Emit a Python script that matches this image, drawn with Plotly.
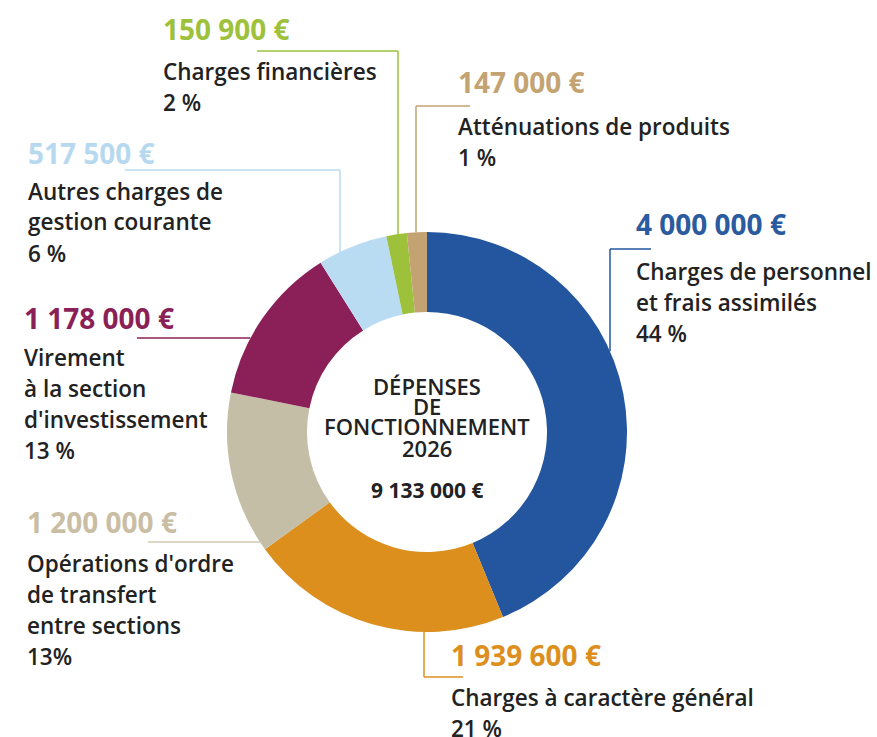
import math
import plotly.graph_objects as go

# ---------------- data ----------------
categories = [
    "Charges de personnel et frais assimilés",
    "Charges à caractère général",
    "Opérations d'ordre de transfert entre sections",
    "Virement à la section d'investissement",
    "Autres charges de gestion courante",
    "Charges financières",
    "Atténuations de produits",
]
label_lines = [
    ["Charges de personnel", "et frais assimilés"],
    ["Charges à caractère général"],
    ["Opérations d'ordre", "de transfert", "entre sections"],
    ["Virement", "à la section", "d'investissement"],
    ["Autres charges de", "gestion courante"],
    ["Charges financières"],
    ["Atténuations de produits"],
]
values = [4000000, 1939600, 1200000, 1178000, 517500, 150900, 147000]
percent_labels = ["44 %", "21 %", "13%", "13 %", "6 %", "2 %", "1 %"]
colors = ["#24569f", "#dc8f1c", "#c5bea6", "#8b1f57", "#b9dcf2", "#9ec13b", "#c4a373"]
text_colors = ["#2a5aa0", "#dc8f1c", "#c9bea4", "#8b1f57", "#b7d9f0", "#9ec13b", "#c4a373"]
title_lines = ["DÉPENSES", "DE", "FONCTIONNEMENT", "2026"]

# ---------------- layout helpers ----------------
W, H = 877, 737
CX, CY, R = 427, 432, 200
HOLE = 0.6
DARK = "#222222"
FONT = "Open Sans"


def px(x):
    return x / W


def py(y):
    return 1 - y / H


def fmt_eur(v):
    return f"{v:,}".replace(",", " ") + " €"


def edge_y(x, top=True):
    d = math.sqrt(R * R - (x - CX) ** 2)
    return CY - d if top else CY + d


def edge_x(y, left=True):
    d = math.sqrt(R * R - (y - CY) ** 2)
    return CX - d if left else CX + d


fig = go.Figure(
    go.Pie(
        labels=categories,
        values=values,
        marker=dict(colors=colors, line=dict(width=0)),
        hole=HOLE,
        sort=False,
        direction="clockwise",
        rotation=0,
        textinfo="none",
        hoverinfo="label+value+percent",
        showlegend=False,
        domain=dict(x=[px(CX - R), px(CX + R)], y=[py(CY + R), py(CY - R)]),
    )
)

# label blocks: (left x, y of value line, y of first text line)
blocks = [
    (634, 224, 271),   # personnel
    (449, 655, 697),   # caractère général
    (25, 522, 563),    # opérations d'ordre
    (22, 318, 357),    # virement
    (26, 153, 191),    # autres charges
    (161, 29, 71),     # financières
    (456, 82, 126),    # atténuations
]
LINE_GAP = 31

annotations = []
for i, (x0, yv, yt) in enumerate(blocks):
    annotations.append(dict(
        x=px(x0), y=py(yv), xref="paper", yref="paper", xanchor="left", yanchor="middle",
        text=fmt_eur(values[i]), showarrow=False,
        font=dict(family=FONT, size=28, color=text_colors[i], weight=700),
    ))
    lines = label_lines[i] + [percent_labels[i]]
    for k, ln in enumerate(lines):
        annotations.append(dict(
            x=px(x0), y=py(yt + k * LINE_GAP), xref="paper", yref="paper",
            xanchor="left", yanchor="middle", text=ln, showarrow=False,
            font=dict(family=FONT, size=22.5, color=DARK, weight=600),
        ))

# center text
center_y = [386, 406, 426, 448]
for t, yy in zip(title_lines, center_y):
    annotations.append(dict(
        x=px(CX), y=py(yy), xref="paper", yref="paper", xanchor="center", yanchor="middle",
        text=t, showarrow=False, font=dict(family=FONT, size=22, color=DARK, weight=600),
    ))
annotations.append(dict(
    x=px(CX), y=py(490), xref="paper", yref="paper", xanchor="center", yanchor="middle",
    text=fmt_eur(sum(values)), showarrow=False,
    font=dict(family=FONT, size=21, color=DARK, weight=700),
))

# leader lines
shapes = []


def seg(x0, y0, x1, y1, color):
    shapes.append(dict(type="line", xref="paper", yref="paper",
                       x0=px(x0), y0=py(y0), x1=px(x1), y1=py(y1),
                       line=dict(color=color, width=1.5)))


# personnel
seg(610, 249, 651, 249, colors[0]); seg(610, 249, 610, edge_y(610, True), colors[0])
# caractère général
seg(424, edge_y(424, False), 424, 677, colors[1]); seg(424, 677, 463, 677, colors[1])
# opérations
seg(148, 542, edge_x(542, True), 542, "#d2c8b0")
# virement
seg(137, 338, edge_x(338, True), 338, colors[3])
# autres charges
seg(125, 170, 340, 170, colors[4]); seg(340, 170, 340, edge_y(340, True), colors[4])
# financières
seg(257, 51, 398, 51, colors[5]); seg(398, 51, 398, edge_y(398, True), colors[5])
# atténuations
seg(416, 106, 470, 106, colors[6]); seg(416, 106, 416, edge_y(416, True), colors[6])

fig.update_layout(
    width=W, height=H,
    margin=dict(l=0, r=0, t=0, b=0),
    paper_bgcolor="white", plot_bgcolor="white",
    annotations=annotations, shapes=shapes,
)

fig.write_html("out.html", config={"displayModeBar": False},
               post_script="document.body.style.margin='0px';")
